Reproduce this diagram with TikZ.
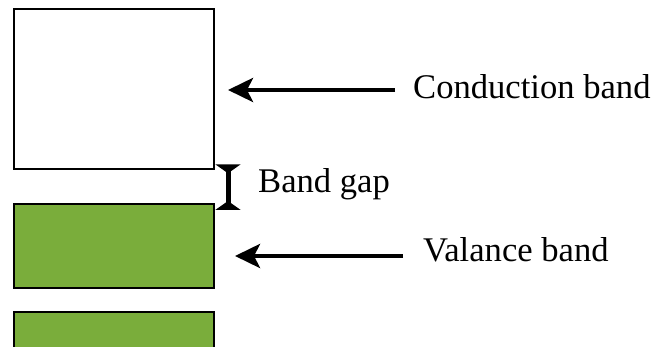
\documentclass[tikz,border=0pt]{standalone}
\usepackage{fontspec}
\setmainfont{Liberation Serif}
\usetikzlibrary{arrows.meta}
\definecolor{bandgreen}{RGB}{122,173,59}
\tikzset{
  band/.style={draw=black, line width=2pt, anchor=north west, inner sep=0pt},
  lbl/.style={anchor=base west, inner sep=0pt, font=\fontsize{34.6}{41}\selectfont},
  pointer/.style={line width=4.5pt, -{Stealth[length=25pt,width=24pt,inset=6pt]}},
  gapbar/.style={line width=5pt, {Triangle[reversed,length=9pt,width=25pt]}-{Triangle[reversed,length=9pt,width=25pt]}}
}
\begin{document}
\begin{tikzpicture}[x=1pt,y=1pt]
\clip (0,0) rectangle (654,347);
\node[band, fill=white, minimum width=200.5pt, minimum height=159.5pt] (cb) at (12.5,338.5) {};
\node[band, fill=bandgreen, minimum width=200.5pt, minimum height=84pt] (vb) at (12.5,144) {};
\node[band, fill=bandgreen, minimum width=200.5pt, minimum height=60pt] (lb) at (12.5,36) {};
\node[lbl] (ct) at (413,248) {Conduction band};
\node[lbl] (gt) at (258,154) {Band gap};
\node[lbl] (vt) at (423,85.5) {Valance band};
\coordinate (ctip) at (228,257);
\coordinate (vtip) at (235,91);
\coordinate (gtop) at (228,182.7);
\coordinate (gbot) at (228,137);
\draw[pointer, shorten <=18pt] (ct.west |- ctip) -- (ctip);
\draw[pointer, shorten <=20pt] (vt.west |- vtip) -- (vtip);
\draw[gapbar] (gtop) -- (gbot);
\end{tikzpicture}
\end{document}
